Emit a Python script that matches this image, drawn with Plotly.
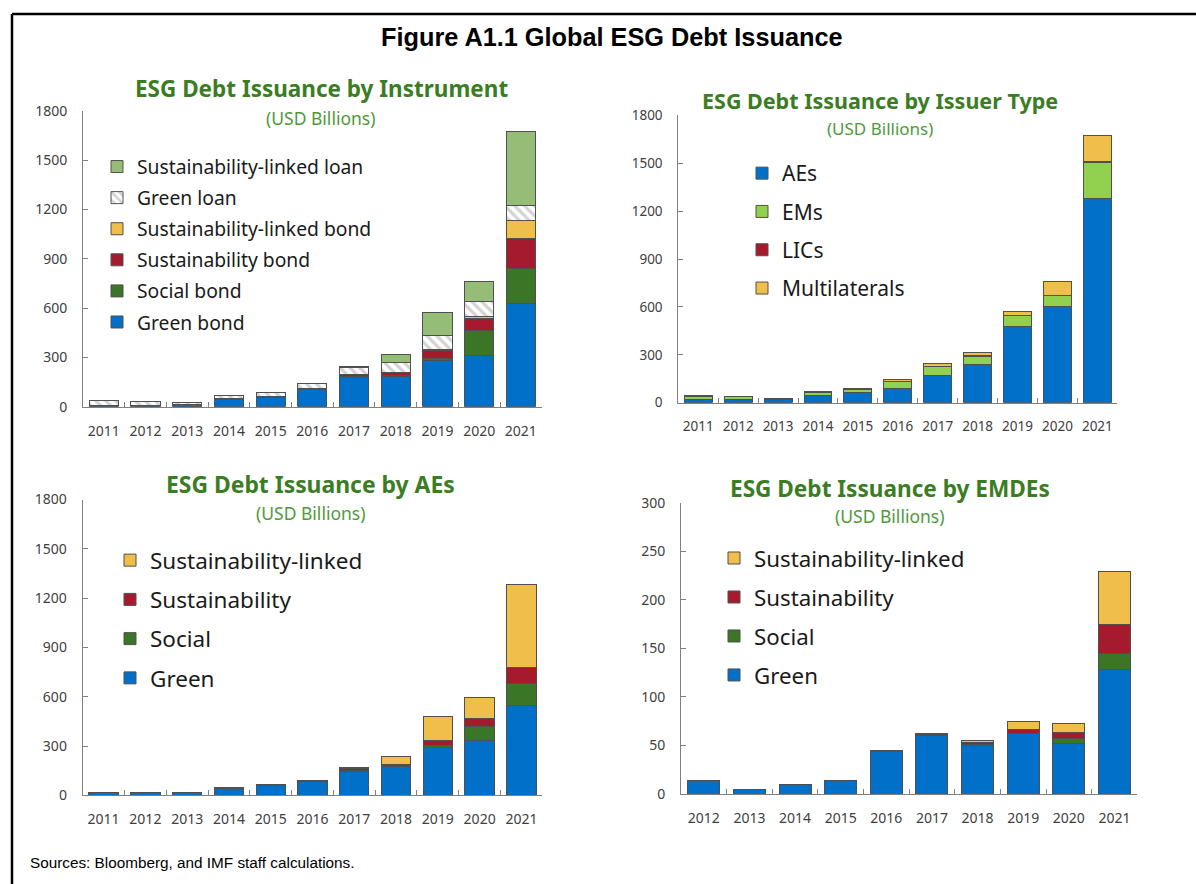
import plotly.graph_objects as go

W, H = 1196, 884

# ---------------- data ----------------
years_all = ["2011", "2012", "2013", "2014", "2015", "2016", "2017", "2018", "2019", "2020", "2021"]
years_emde = ["2012", "2013", "2014", "2015", "2016", "2017", "2018", "2019", "2020", "2021"]

# Panel 1: by instrument (USD bn)
green_bond = [10, 10, 16, 45, 55, 105, 176, 182, 278, 312, 628]
social_bond = [0, 0, 0, 2, 2, 2, 6, 8, 16, 150, 213]
sust_bond = [0, 0, 0, 2, 2, 2, 13, 17, 46, 73, 183]
sl_bond = [0, 0, 0, 0, 0, 0, 1, 2, 5, 12, 111]
green_loan = [26, 20, 10, 20, 28, 33, 42, 59, 87, 92, 87]
sl_loan = [0, 0, 0, 0, 0, 0, 6, 50, 142, 125, 450]

# Panel 2: by issuer type
aes = [21, 19, 20, 48, 67, 88, 171, 240, 476, 600, 1278]
ems = [19, 17, 3, 14, 16, 42, 56, 52, 70, 72, 230]
lics = [1, 1, 1, 1, 1, 2, 2, 2, 2, 2, 3]
multilaterals = [3, 3, 3, 6, 6, 14, 15, 21, 24, 88, 160]

# Panel 3: AEs
ae_green = [16, 19, 16, 43, 61, 82, 147, 173, 288, 331, 547]
ae_social = [0, 0, 0, 2, 2, 2, 4, 9, 16, 89, 131]
ae_sust = [0, 1, 0, 4, 4, 4, 12, 8, 31, 49, 102]
ae_sl = [0, 0, 0, 0, 0, 0, 6, 49, 143, 129, 504]

# Panel 4: EMDEs
em_green = [14, 5, 10, 14, 44, 60, 50, 62, 52, 128]
em_social = [0, 0, 0, 0, 0.3, 0.3, 1.4, 0.7, 5, 17]
em_sust = [0, 0, 0, 0, 0.8, 1.4, 1.7, 3.8, 6.5, 29.5]
em_sl = [0, 0, 0, 0, 0, 0.6, 2.1, 8.2, 9.6, 55]

# ---------------- styles ----------------
BLUE = "#0070C8"
DKGREEN = "#3A7626"
CRIMSON = "#A61A2E"
YELLOW = "#F0BE4A"
LTGREEN = "#95BD78"
EMGREEN = "#92D050"
EDGE = "#505050"
TITLE_GREEN = "#3B7D23"
SUB_GREEN = "#4E9A3A"
FONT = "Noto Sans"
AXIS_GRAY = "#808080"
TICK_COLOR = "#404040"


def fx(p):
    return p / W


def fy(p):
    return 1 - p / H


fig = go.Figure()


def add_bar(name, x, y, color, n, legend, rank, pattern=None):
    marker = dict(color=color, line=dict(color=EDGE, width=1))
    if pattern is not None:
        marker["pattern"] = pattern
    fig.add_trace(go.Bar(
        name=name, x=x, y=y,
        xaxis="x" if n == 1 else f"x{n}",
        yaxis="y" if n == 1 else f"y{n}",
        marker=marker, legend=legend, legendgroup=f"{legend}-{name}",
        legendrank=rank,
    ))


add_bar("Green bond", years_all, green_bond, BLUE, 1, "legend", 6)
add_bar("Social bond", years_all, social_bond, DKGREEN, 1, "legend", 5)
add_bar("Sustainability bond", years_all, sust_bond, CRIMSON, 1, "legend", 4)
add_bar("Sustainability-linked bond", years_all, sl_bond, YELLOW, 1, "legend", 3)
add_bar("Green loan", years_all, green_loan, "white", 1, "legend", 2,
        pattern=dict(shape="\\", fgcolor="#A6A6A6", bgcolor="white", size=7, solidity=0.45))
add_bar("Sustainability-linked loan", years_all, sl_loan, LTGREEN, 1, "legend", 1)

add_bar("AEs", years_all, aes, BLUE, 2, "legend2", 1)
add_bar("EMs", years_all, ems, EMGREEN, 2, "legend2", 2)
add_bar("LICs", years_all, lics, CRIMSON, 2, "legend2", 3)
add_bar("Multilaterals", years_all, multilaterals, YELLOW, 2, "legend2", 4)

add_bar("Green", years_all, ae_green, BLUE, 3, "legend3", 4)
add_bar("Social", years_all, ae_social, DKGREEN, 3, "legend3", 3)
add_bar("Sustainability", years_all, ae_sust, CRIMSON, 3, "legend3", 2)
add_bar("Sustainability-linked", years_all, ae_sl, YELLOW, 3, "legend3", 1)

add_bar("Green", years_emde, em_green, BLUE, 4, "legend4", 4)
add_bar("Social", years_emde, em_social, DKGREEN, 4, "legend4", 3)
add_bar("Sustainability", years_emde, em_sust, CRIMSON, 4, "legend4", 2)
add_bar("Sustainability-linked", years_emde, em_sl, YELLOW, 4, "legend4", 1)

# panel geometry in pixels: (x0, x1, ytop, ybottom)
panels = {
    1: (83, 541.7, 110.7, 406.7),
    2: (678.3, 1117.3, 115.4, 402.7),
    3: (82.7, 542.3, 499.5, 795.3),
    4: (681, 1137.3, 502.7, 794),
}
yranges = {1: (1800, 300), 2: (1800, 300), 3: (1800, 300), 4: (300, 50)}
tick_sizes = {1: 14, 2: 13.5, 3: 14, 4: 14}

layout = dict(
    width=W, height=H,
    margin=dict(l=0, r=0, t=0, b=0, pad=0, autoexpand=False),
    paper_bgcolor="white", plot_bgcolor="rgba(0,0,0,0)",
    barmode="stack", bargap=0.3,
    showlegend=True,
    font=dict(family=FONT, color=TICK_COLOR),
)

for n, (x0, x1, yt, yb) in panels.items():
    xs = "xaxis" if n == 1 else f"xaxis{n}"
    ys = "yaxis" if n == 1 else f"yaxis{n}"
    anchor_x = "x" if n == 1 else f"x{n}"
    anchor_y = "y" if n == 1 else f"y{n}"
    layout[xs] = dict(
        domain=[fx(x0), fx(x1)], anchor=anchor_y, type="category",
        tickson="boundaries", ticks="inside", ticklen=5, tickcolor=AXIS_GRAY, tickwidth=1,
        showline=True, linecolor=AXIS_GRAY, linewidth=1, showgrid=False, zeroline=False,
        tickfont=dict(family=FONT, size=tick_sizes[n], color=TICK_COLOR), ticklabelstandoff=11,
        tickangle=0, fixedrange=True, automargin=False,
    )
    top, step = yranges[n]
    layout[ys] = dict(
        domain=[fy(yb), fy(yt)], anchor=anchor_x, range=[0, top], dtick=step,
        ticks="inside", ticklen=5, tickcolor=AXIS_GRAY, tickwidth=1,
        showline=True, linecolor=AXIS_GRAY, linewidth=1, showgrid=False, zeroline=False,
        tickfont=dict(family=FONT, size=tick_sizes[n], color=TICK_COLOR), ticklabelstandoff=12,
        fixedrange=True, automargin=False,
    )


def legend_cfg(xpx, ypx, size, gap):
    return dict(
        x=fx(xpx), y=fy(ypx), xanchor="left", yanchor="top",
        font=dict(family=FONT, size=size, color="#1a1a1a"),
        traceorder="grouped", tracegroupgap=gap, bgcolor="rgba(0,0,0,0)",
        borderwidth=0, itemclick=False, itemdoubleclick=False,
    )


layout["legend"] = legend_cfg(97, 147.5, 19.3, 3)
layout["legend2"] = legend_cfg(742, 153, 21, 8)
layout["legend3"] = legend_cfg(110, 539, 22.5, 7)
layout["legend4"] = legend_cfg(714, 537, 22.3, 7)

annotations = []


def add_text(text, xpx, ypx, size, color, family=FONT, xanchor="center"):
    annotations.append(dict(
        text=text, x=fx(xpx), y=fy(ypx), xref="paper", yref="paper",
        xanchor=xanchor, yanchor="middle", showarrow=False,
        font=dict(family=family, size=size, color=color),
    ))


add_text("<b>Figure A1.1 Global ESG Debt Issuance</b>", 612, 37, 25.3, "black", family="Liberation Sans")
add_text("<b>ESG Debt Issuance by Instrument</b>", 321, 89, 22.5, TITLE_GREEN)
add_text("(USD Billions)", 320, 118, 17.5, SUB_GREEN)
add_text("<b>ESG Debt Issuance by Issuer Type</b>", 880, 100, 21.5, TITLE_GREEN)
add_text("(USD Billions)", 880, 128, 17, SUB_GREEN)
add_text("<b>ESG Debt Issuance by AEs</b>", 310, 484, 22.9, TITLE_GREEN)
add_text("(USD Billions)", 310, 513, 17.5, SUB_GREEN)
add_text("<b>ESG Debt Issuance by EMDEs</b>", 890, 488, 22.6, TITLE_GREEN)
add_text("(USD Billions)", 890, 516, 17.5, SUB_GREEN)
add_text("Sources: Bloomberg, and IMF staff calculations.", 28, 862, 15.3, "black",
         family="Liberation Sans", xanchor="left")

layout["annotations"] = annotations

# figure frame (top and left edges)
layout["shapes"] = [
    dict(type="line", xref="paper", yref="paper", x0=fx(12), x1=1, y0=fy(14), y1=fy(14),
         line=dict(color="black", width=2.5)),
    dict(type="line", xref="paper", yref="paper", x0=fx(12), x1=fx(12), y0=fy(14), y1=0,
         line=dict(color="black", width=2.5)),
]

fig.update_layout(**layout)
fig.write_html("out.html", config={"displayModeBar": False},
               post_script="document.body.style.margin='0';")
